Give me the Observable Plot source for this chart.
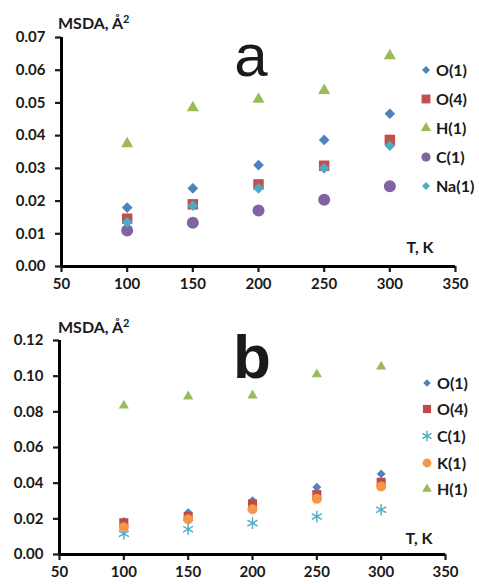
<!DOCTYPE html>
<html>
<head>
<meta charset="utf-8">
<script src="https://cdn.jsdelivr.net/npm/d3@7"></script>
<script src="https://cdn.jsdelivr.net/npm/@observablehq/plot@0.6"></script>
<style>
  body { margin: 0; background: #fff; font-family: Lato, "Open Sans", sans-serif; }
  .panel { position: relative; width: 479px; }
  .lbl { position: absolute; font-weight: bold; color: #1a1a1a; white-space: nowrap; line-height: 1; }
  .leg { position: absolute; font-weight: bold; font-size: 16px; color: #1a1a1a; line-height: 1; white-space: nowrap; }
  .leg svg { position: absolute; overflow: visible; }
</style>
</head>
<body>
<div id="a" class="panel"></div>
<div id="b" class="panel"></div>
<script>
// ---------- data ----------
const temps = [100, 150, 200, 250, 300];
const xTicks = [50, 100, 150, 200, 250, 300, 350];
const yTicksA = [0, 0.01, 0.02, 0.03, 0.04, 0.05, 0.06, 0.07];
const yTicksB = [0, 0.02, 0.04, 0.06, 0.08, 0.10, 0.12];

// panel a
const aO1 = [0.0180, 0.0239, 0.0310, 0.0387, 0.0467];
const aO4 = [0.0146, 0.0190, 0.0251, 0.0308, 0.0387];
const aH1 = [0.0375, 0.0485, 0.0511, 0.0538, 0.0644];
const aC1 = [0.0110, 0.0134, 0.0171, 0.0204, 0.0245];
const aNa1 = [0.0135, 0.0186, 0.0239, 0.0300, 0.0369];

// panel b
const bO1 = [0.0185, 0.0235, 0.0302, 0.0377, 0.0452];
const bO4 = [0.0178, 0.0213, 0.0284, 0.0336, 0.0405];
const bC1 = [0.0116, 0.0142, 0.0176, 0.0213, 0.0251];
const bK1 = [0.0153, 0.0198, 0.0254, 0.0312, 0.0381];
const bH1 = [0.0835, 0.0886, 0.0892, 0.1010, 0.1054];

const seriesA = [
  {name: "O(1)", values: aO1, symbol: "diamond2", color: "#4F81BD", r: 4.8, lr: 3.6},
  {name: "O(4)", values: aO4, symbol: "square", color: "#C0504D", r: 5.9, lr: 5.0},
  {name: "H(1)", values: aH1, symbol: "triangle", color: "#9BBB59", r: 4.5, lr: 3.8},
  {name: "C(1)", values: aC1, symbol: "circle", color: "#8064A2", r: 6.0, lr: 4.6},
  {name: "Na(1)", values: aNa1, symbol: "diamond2", color: "#4BACC6", r: 4.8, lr: 3.6}
];
const seriesB = [
  {name: "O(1)", values: bO1, symbol: "diamond2", color: "#4F81BD", r: 4.0, lr: 3.4},
  {name: "O(4)", values: bO4, symbol: "square", color: "#BE4B48", r: 5.1, lr: 4.6},
  {name: "C(1)", values: bC1, symbol: "asterisk", color: "#4BACC6", r: 5.5, lr: 5.0},
  {name: "K(1)", values: bK1, symbol: "circle", color: "#F79646", r: 5.0, lr: 4.4},
  {name: "H(1)", values: bH1, symbol: "triangle", color: "#9BBB59", r: 3.8, lr: 3.6}
];

const strokeSymbols = new Set(["asterisk", "times", "plus"]);

function makePanel(id, cfg) {
  const el = document.getElementById(id);
  el.style.height = cfg.boxHeight + "px";
  const marks = [];
  for (const s of cfg.series) {
    const data = s.values.map((v, i) => ({T: temps[i], v}));
    const stroke = strokeSymbols.has(s.symbol);
    marks.push(Plot.dot(data, {
      x: "T", y: "v", symbol: s.symbol, r: s.r,
      fill: stroke ? "none" : s.color,
      stroke: stroke ? s.color : "none",
      strokeWidth: stroke ? 1.4 : 0
    }));
  }
  const chart = Plot.plot({
    width: 479,
    height: cfg.height,
    marginLeft: cfg.ml, marginRight: cfg.mr, marginTop: cfg.mt, marginBottom: cfg.mb,
    style: {fontFamily: "Lato, 'Open Sans', sans-serif", fontSize: "15px", fontWeight: "bold", color: "#1a1a1a", background: "transparent", overflow: "visible"},
    x: {domain: [50, 350], ticks: xTicks, tickFormat: d3.format("d"), label: null},
    y: {domain: cfg.yDomain, ticks: cfg.yTicks, tickFormat: d3.format(".2f"), label: null},
    marks: [
      Plot.axisX({ticks: xTicks, tickFormat: d3.format("d"), tickSize: 6, tickPadding: 6, strokeWidth: 2.2, label: null, fontSize: 15}),
      Plot.axisY({ticks: cfg.yTicks, tickFormat: d3.format(".2f"), tickSize: 6, tickPadding: 10, strokeWidth: 2.2, label: null, fontSize: 15}),
      ...marks,
      Plot.ruleX([50], {stroke: "black", strokeWidth: 3}),
      Plot.ruleY([0], {stroke: "black", strokeWidth: 3})
    ]
  });
  chart.style.position = "absolute";
  chart.style.left = "0px";
  chart.style.top = "0px";
  el.appendChild(chart);

  for (const t of cfg.texts) {
    const d = document.createElement("div");
    d.className = "lbl";
    d.innerHTML = t.html;
    d.style.left = t.x + "px";
    d.style.top = t.y + "px";
    d.style.fontSize = t.size + "px";
    if (t.weight) d.style.fontWeight = t.weight;
    if (t.family) d.style.fontFamily = t.family;
    if (t.center) d.style.transform = "translateX(-50%)";
    el.appendChild(d);
  }

  cfg.series.forEach((s, i) => {
    const cy = cfg.legY[i];
    const row = document.createElement("div");
    row.className = "leg";
    row.style.left = cfg.legX + "px";
    row.style.top = (cy - 8) + "px";
    const stroke = strokeSymbols.has(s.symbol);
    const sym = {circle: d3.symbolCircle, square: d3.symbolSquare, triangle: d3.symbolTriangle,
      diamond2: d3.symbolDiamond2, asterisk: d3.symbolAsterisk}[s.symbol];
    const path = d3.symbol(sym, Math.PI * s.lr * s.lr)();
    row.innerHTML = `<svg width="1" height="1" style="left:${-cfg.legGap}px;top:8px"><path d="${path}" fill="${stroke ? "none" : s.color}" stroke="${stroke ? s.color : "none"}" stroke-width="1.4"/></svg><span>${s.name}</span>`;
    el.appendChild(row);
  });
}

makePanel("a", {
  boxHeight: 290, height: 296, ml: 61, mr: 24, mt: 37, mb: 30,
  yDomain: [0, 0.07], yTicks: yTicksA, series: seriesA,
  legX: 436, legGap: 10, legY: [70, 99, 128, 157, 186],
  texts: [
    {html: "MSDA, Å<sup style='font-size:11px'>2</sup>", x: 58, y: 13, size: 16},
    {html: "a", x: 251, y: 26, size: 60, weight: "normal", family: "Arial, 'Liberation Sans', sans-serif", center: true},
    {html: "T, K", x: 420, y: 239, size: 16, center: true}
  ]
});

makePanel("b", {
  boxHeight: 294, height: 294, ml: 59, mr: 34, mt: 50, mb: 30,
  yDomain: [0, 0.12], yTicks: yTicksB, series: seriesB,
  legX: 437, legGap: 10, legY: [93, 119, 146, 173, 199],
  texts: [
    {html: "MSDA, Å<sup style='font-size:11px'>2</sup>", x: 58, y: 27, size: 16},
    {html: "b", x: 252, y: 36, size: 62, weight: "bold", family: "Arial, 'Liberation Sans', sans-serif", center: true},
    {html: "T, K", x: 419, y: 240, size: 16, center: true}
  ]
});
</script>
</body>
</html>
